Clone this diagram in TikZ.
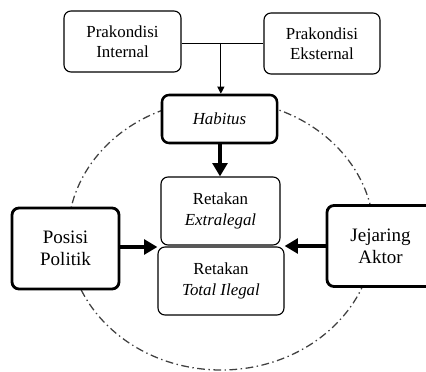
\documentclass[tikz,border=0pt]{standalone}
\usepackage{fontspec}
\setmainfont{Liberation Serif}
\usetikzlibrary{arrows.meta}
\usetikzlibrary{calc}

\begin{document}
\begin{tikzpicture}[x=0.025cm, y=-0.025cm,
    box/.style={draw, fill=white, rounded corners=5pt, line width=0.8pt, align=center, inner sep=0pt, font=\fontsize{12}{14.4}\selectfont},
    thickbox/.style={box, line width=2pt},
    sidebox/.style={thickbox, minimum width=2.675cm, minimum height=2.025cm, font=\fontsize{13.5}{15.5}\selectfont},
    bigarrow/.style={line width=2.4pt, -{Triangle[length=9.5pt, width=10.5pt]}},
    thinarrow/.style={line width=0.7pt, -{Triangle[length=5pt, width=5pt]}}]

    \useasboundingbox (0,0) rectangle (426,372);

    % dash-dot ring
    \draw[gray!50!black, line width=0.9pt, dash pattern=on 5.5pt off 2.5pt on 1pt off 2.5pt] (221,235) ellipse [x radius=153, y radius=135];

    % Prakondisi
    \node[box, minimum width=2.925cm, minimum height=1.525cm] (prakint) at (122.5,41.5) {Prakondisi\\Internal};
    \node[box, minimum width=2.9cm, minimum height=1.525cm] (prakeks) at (322,43.5) {Prakondisi\\Eksternal};

    % centre column
    \node[thickbox, line width=1.8pt, minimum width=2.875cm, minimum height=1.2cm] (habitus) at (219.5,119) {\textit{Habitus}};
    \node[box, minimum width=2.975cm, minimum height=1.7cm] (extra) at (220.5,211) {Retakan\\\textit{Extralegal}};
    \node[box, minimum width=3.15cm, minimum height=1.7cm] (total) at (221,281) {Retakan\\\textit{Total Ilegal}};

    % side boxes
    \node[sidebox] (posisi) at (65.5,248.5) {Posisi\\Politik};
    \node[sidebox] (jejaring) at (380.5,246) {Jejaring\\Aktor};

    % Joining line
    \draw[line width=0.7pt] (prakint.east |- 0,43) -- coordinate[pos=0.48] (join) (prakeks.west |- 0,43);
    \draw[thinarrow] (join) -- (join |- habitus.north);

    % thick arrows
    \draw[bigarrow] (habitus.south -| 220,0) -- (extra.north -| 220,0);
    \draw[bigarrow] (posisi.east |- 0,247) -- (total.west |- 0,247);
    \draw[bigarrow] (jejaring.west |- 0,246) -- (total.east |- 0,246);

\end{tikzpicture}
\end{document}
